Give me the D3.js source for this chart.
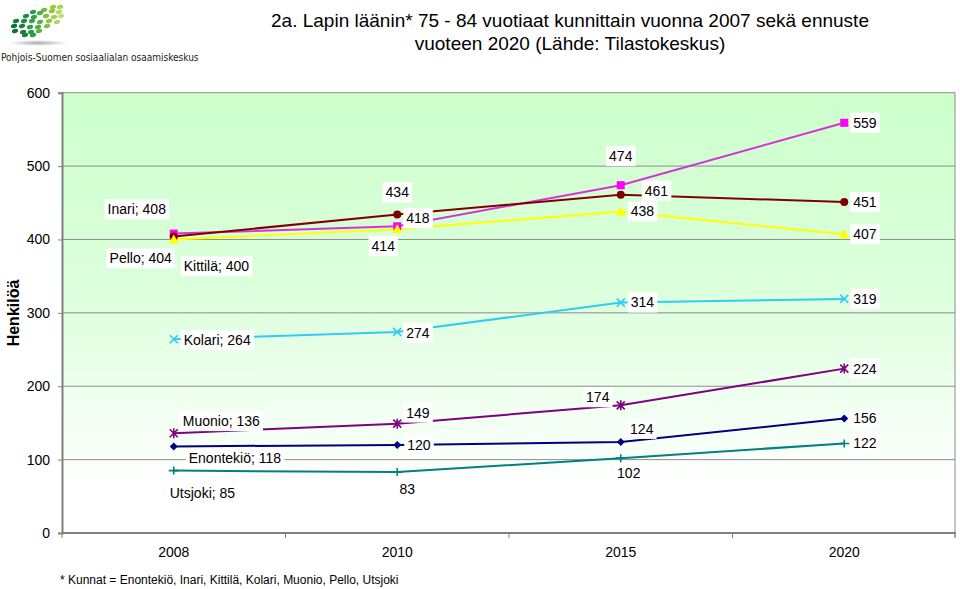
<!DOCTYPE html>
<html><head><meta charset="utf-8">
<script src="https://cdn.jsdelivr.net/npm/d3@7"></script>
<style>body{margin:0;background:#fff;}svg{display:block;font-family:"Liberation Sans",Arial,sans-serif;}</style>
</head><body>
<svg id="c" width="960" height="589"></svg>
<script>
const years = ["2008", "2010", "2015", "2020"];
const yTicks = [0, 100, 200, 300, 400, 500, 600];
const inari = [408, 418, 474, 559];
const pello = [404, 434, 461, 451];
const kittila = [400, 414, 438, 407];
const kolari = [264, 274, 314, 319];
const muonio = [136, 149, 174, 224];
const enontekio = [118, 120, 124, 156];
const utsjoki = [85, 83, 102, 122];
const seriesNames = ["Inari", "Pello", "Kittilä", "Kolari", "Muonio", "Enontekiö", "Utsjoki"];
const footnote = "* Kunnat = Enontekiö, Inari, Kittilä, Kolari, Muonio, Pello, Utsjoki";

const series = [
  {name: "Inari", values: inari, line: "#d633d6", fill: "#ff00ff", marker: "square"},
  {name: "Pello", values: pello, line: "#800000", fill: "#800000", marker: "circle"},
  {name: "Kittilä", values: kittila, line: "#ffff00", fill: "#ffff00", marker: "triangle"},
  {name: "Kolari", values: kolari, line: "#33ccf0", fill: "#33ccf0", marker: "x"},
  {name: "Muonio", values: muonio, line: "#800080", fill: "#800080", marker: "star"},
  {name: "Enontekiö", values: enontekio, line: "#000080", fill: "#000080", marker: "diamond"},
  {name: "Utsjoki", values: utsjoki, line: "#008080", fill: "#008080", marker: "plus"}
];
// label placement (anchor mode, dx, dy) per series per point
const labelLayout = {
  "Inari":    [["m",-37,-24],["s",9,-8],["m",0,-29],["s",9,0]],
  "Pello":    [["m",-33,22],["m",0,-22],["s",24,-4],["s",9,0]],
  "Kittilä":  [["s",10,27],["m",-14,17],["s",10,0],["s",9,0]],
  "Kolari":   [["s",10,1],["s",9,1],["s",10,0],["s",9,0]],
  "Muonio":   [["s",9,-12],["s",9,-11],["m",-23,-8],["s",9,0]],
  "Enontekiö":[["s",15,12],["s",10,0],["m",21,-13],["s",9,0]],
  "Utsjoki":  [["s",-4,22],["m",10,17],["m",8,15],["s",9,0]]
};

const svg = d3.select("#c");
const m = {left: 62, right: 956, top: 92.7, bottom: 533};

const x = d3.scaleBand().domain(years).range([m.left, m.right]);
const y = d3.scaleLinear().domain([0, 600]).range([m.bottom, m.top]);
const cx = d => x(d) + x.bandwidth() / 2;

// gradient
const defs = svg.append("defs");
const g = defs.append("linearGradient").attr("id", "bg").attr("x1", 0).attr("y1", 0).attr("x2", 0).attr("y2", 1);
g.append("stop").attr("offset", "0%").attr("stop-color", "#ccffcc");
g.append("stop").attr("offset", "45%").attr("stop-color", "#dcffdc");
g.append("stop").attr("offset", "90%").attr("stop-color", "#ffffff");
g.append("stop").attr("offset", "100%").attr("stop-color", "#ffffff");

svg.append("rect").attr("x", m.left).attr("y", m.top).attr("width", m.right - m.left - 1).attr("height", m.bottom - m.top).attr("fill", "url(#bg)");

// gridlines
svg.append("g").selectAll("line").data(yTicks.filter(t => t > 0)).join("line")
  .attr("x1", m.left).attr("x2", m.right - 1).attr("y1", d => y(d)).attr("y2", d => y(d))
  .attr("stroke", "#8c8c8c").attr("stroke-width", 1);
svg.append("line").attr("x1", m.right - 1).attr("x2", m.right - 1).attr("y1", m.top).attr("y2", m.bottom + 4).attr("stroke", "#8c8c8c");

// y axis
const yAxis = svg.append("g").attr("transform", `translate(${m.left},0)`)
  .call(d3.axisLeft(y).tickValues(yTicks).tickSize(4).tickPadding(8));
yAxis.select(".domain").attr("stroke", "#808080").attr("stroke-width", 2);
yAxis.selectAll(".tick line").attr("stroke", "#808080");
yAxis.selectAll("text").attr("font-size", 14).attr("fill", "#000").attr("font-family", "Liberation Sans, Arial, sans-serif");

// x axis
const xAxis = svg.append("g").attr("transform", `translate(0,${m.bottom})`)
  .call(d3.axisBottom(x).tickSize(0).tickPadding(14));
xAxis.select(".domain").remove();
svg.append("line").attr("x1", m.left).attr("x2", m.right).attr("y1", m.bottom).attr("y2", m.bottom).attr("stroke", "#808080").attr("stroke-width", 2);
svg.append("g").selectAll("line").data(years.slice(1).concat(["end"])).join("line")
  .attr("x1", d => d === "end" ? m.right - 1 : x(d)).attr("x2", d => d === "end" ? m.right - 1 : x(d))
  .attr("y1", m.bottom).attr("y2", m.bottom + 5).attr("stroke", "#808080");
svg.append("line").attr("x1", m.left).attr("x2", m.left).attr("y1", m.bottom).attr("y2", m.bottom + 5).attr("stroke", "#808080");
xAxis.selectAll("text").attr("font-size", 14).attr("fill", "#000").attr("font-family", "Liberation Sans, Arial, sans-serif");

// lines
const lineGen = d3.line().x((d, i) => cx(years[i])).y(d => y(d));
series.forEach(s => {
  svg.append("path").attr("d", lineGen(s.values)).attr("fill", "none").attr("stroke", s.line).attr("stroke-width", 2);
});

// markers
function marker(gm, s, px, py) {
  const r = 4;
  if (s.marker === "square") gm.append("rect").attr("x", px - r).attr("y", py - r).attr("width", 2*r).attr("height", 2*r).attr("fill", s.fill);
  else if (s.marker === "circle") gm.append("circle").attr("cx", px).attr("cy", py).attr("r", r).attr("fill", s.fill);
  else if (s.marker === "triangle") gm.append("path").attr("d", `M${px},${py-r-1}L${px+r+1},${py+r}L${px-r-1},${py+r}Z`).attr("fill", s.fill);
  else if (s.marker === "diamond") gm.append("path").attr("d", `M${px},${py-r}L${px+r},${py}L${px},${py+r}L${px-r},${py}Z`).attr("fill", s.fill);
  else {
    let d = "";
    if (s.marker === "x" || s.marker === "star") d += `M${px-r},${py-r}L${px+r},${py+r}M${px-r},${py+r}L${px+r},${py-r}`;
    if (s.marker === "plus") d += `M${px-r-1},${py}L${px+r+1},${py}M${px},${py-r}L${px},${py+r}`;
    if (s.marker === "star") d += `M${px},${py-r-1}L${px},${py+r+1}`;
    gm.append("path").attr("d", d).attr("stroke", s.fill).attr("stroke-width", 1.6).attr("fill", "none");
  }
}
series.forEach(s => {
  const gm = svg.append("g");
  s.values.forEach((v, i) => marker(gm, s, cx(years[i]), y(v)));
});

// labels
const lg = svg.append("g").attr("font-size", 14).attr("fill", "#000");
series.forEach(s => {
  s.values.forEach((v, i) => {
    const [mode, dx, dy] = labelLayout[s.name][i];
    const txt = i === 0 ? `${s.name}; ${v}` : `${v}`;
    const px = cx(years[i]) + dx, py = y(v) + dy;
    const t = lg.append("text").attr("x", px).attr("y", py).attr("dy", "0.35em")
      .attr("text-anchor", mode === "m" ? "middle" : (mode === "e" ? "end" : "start")).text(txt);
    const bb = t.node().getBBox();
    lg.insert("rect", () => t.node()).attr("x", bb.x - 3).attr("y", bb.y - 2).attr("width", bb.width + 6).attr("height", bb.height + 4).attr("fill", "#fff");
  });
});

// y title
svg.append("text").attr("transform", "translate(19,313) rotate(-90)").attr("text-anchor", "middle")
  .attr("font-size", 16).attr("font-weight", "bold").text("Henkilöä");

// title
svg.append("text").attr("x", 570).attr("y", 27).attr("text-anchor", "middle").attr("font-size", 19).text("2a. Lapin läänin* 75 - 84 vuotiaat kunnittain vuonna 2007 sekä ennuste");
svg.append("text").attr("x", 570).attr("y", 50).attr("text-anchor", "middle").attr("font-size", 19).text("vuoteen 2020 (Lähde: Tilastokeskus)");

// footnote
svg.append("text").attr("x", 60).attr("y", 584).attr("font-size", 12).text(footnote);

// logo
const logo = svg.append("g");
const shadow = defs.append("radialGradient").attr("id", "sh");
shadow.append("stop").attr("offset", "0%").attr("stop-color", "#aaaaaa");
shadow.append("stop").attr("offset", "100%").attr("stop-color", "#ffffff");
logo.append("ellipse").attr("cx", 38).attr("cy", 43).attr("rx", 30).attr("ry", 3).attr("fill", "url(#sh)");
const dots = [
  [53,7,"#9acd32"],[60,7,"#a8d84a"],[44,10,"#6fbf3a"],[52,11,"#8cc63f"],[59,12,"#b5dc5a"],[33,12,"#2e9a4a"],[40,13,"#4aad45"],
  [26,16,"#1f8a45"],[34,17,"#3aa14a"],[46,16,"#7cc242"],[54,17,"#a0d050"],[61,16,"#c0e070"],
  [16,21,"#147a40"],[24,21,"#1f8a45"],[32,21,"#3aa14a"],[40,22,"#5ab445"],[49,21,"#8cc63f"],[57,22,"#b0d860"],
  [14,26,"#0f7038"],[22,26,"#1a8040"],[30,27,"#2e9a4a"],[38,27,"#4aad45"],[47,26,"#7cc242"],
  [15,31,"#0f7038"],[23,32,"#1a8040"],[31,32,"#2e9a4a"],[39,31,"#5ab445"],
  [25,35,"#1a8040"],[33,35,"#2e9a4a"]
];
logo.selectAll("ellipse.d").data(dots).join("ellipse").attr("class", "d")
  .attr("cx", d => d[0]).attr("cy", d => d[1]).attr("rx", 3.2).attr("ry", 2).attr("fill", d => d[2])
  .attr("transform", d => `rotate(-20,${d[0]},${d[1]})`);
logo.append("text").attr("x", 1).attr("y", 61).attr("font-family", "DejaVu Sans Condensed, DejaVu Sans, sans-serif").attr("font-stretch", "condensed").attr("font-size", 10).attr("fill", "#222").text("Pohjois-Suomen sosiaalialan osaamiskeskus");
</script>
</body></html>
